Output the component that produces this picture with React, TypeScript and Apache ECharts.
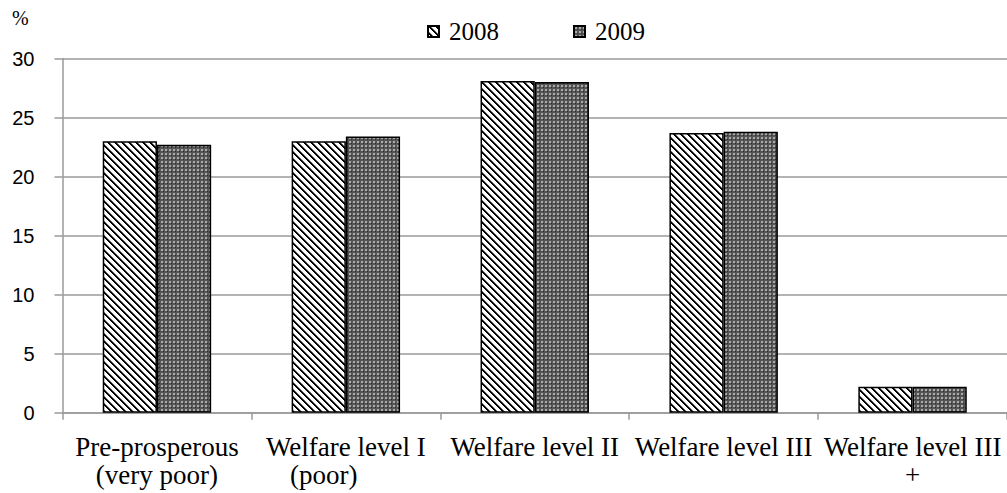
import React, { useEffect, useRef } from "react";
import * as echarts from "echarts";

const categories = [
  "Pre-prosperous\n(very poor)",
  "Welfare level I\n(poor)",
  "Welfare level II",
  "Welfare level III",
  "Welfare level III\n+",
];
const values2008 = [23.0, 23.0, 28.1, 23.7, 2.2];
const values2009 = [22.7, 23.4, 28.0, 23.8, 2.2];
const seriesNames = ["2008", "2009"];
const yTicks = { min: 0, max: 30, interval: 5 };

function stripeTile(): HTMLCanvasElement {
  const n = 7;
  const c = document.createElement("canvas");
  c.width = n;
  c.height = n;
  const ctx = c.getContext("2d")!;
  ctx.fillStyle = "#ffffff";
  ctx.fillRect(0, 0, n, n);
  for (let y = 0; y < n; y++) {
    for (let x = 0; x < n; x++) {
      const d = (((x - y) % n) + n) % n;
      if (d < 2) {
        ctx.fillStyle = "#000000";
        ctx.fillRect(x, y, 1, 1);
      } else if (d === 2) {
        ctx.fillStyle = "#777777";
        ctx.fillRect(x, y, 1, 1);
      }
    }
  }
  return c;
}

function checkTile(): HTMLCanvasElement {
  const c = document.createElement("canvas");
  c.width = 4;
  c.height = 4;
  const ctx = c.getContext("2d")!;
  ctx.fillStyle = "#555555";
  ctx.fillRect(0, 0, 4, 4);
  ctx.fillStyle = "#ababab";
  ctx.fillRect(1, 1, 2, 2);
  ctx.fillStyle = "#2c2c2c";
  ctx.fillRect(3, 3, 1, 1);
  return c;
}

export default function App() {
  const ref = useRef<HTMLDivElement>(null);

  useEffect(() => {
    document.body.style.margin = "0";
    if (!ref.current) return;
    const chart = echarts.init(ref.current, undefined, { renderer: "svg" });
    const stripe = { image: stripeTile(), repeat: "repeat" } as any;
    const check = { image: checkTile(), repeat: "repeat" } as any;
    const serif = "Liberation Serif";
    const sans = "Liberation Sans";
    const labelBase = { fontFamily: serif, fontSize: 27, lineHeight: 28, color: "#000" };
    chart.setOption({
      animation: false,
      backgroundColor: "#ffffff",
      textStyle: { fontFamily: serif, color: "#000" },
      grid: { left: 62.5, right: -6, top: 58.5, bottom: 80.3, containLabel: false },
      legend: {
        left: 427,
        top: 19,
        padding: 0,
        itemWidth: 11,
        itemHeight: 11,
        itemGap: 74,
        icon: "rect",
        textStyle: {
          fontFamily: serif,
          fontSize: 25,
          color: "#000",
          padding: [0, 0, 0, 5],
        },
        data: seriesNames,
      },
      graphic: [
        {
          type: "text",
          left: 12,
          top: 8,
          style: { text: "%", fontFamily: serif, fontSize: 20, fill: "#000" },
        },
      ],
      xAxis: {
        type: "category",
        data: categories,
        axisLine: { show: true, lineStyle: { color: "#9a9a9a", width: 1.5 } },
        axisTick: { show: true, length: 7, lineStyle: { color: "#9a9a9a", width: 1.5 } },
        axisLabel: {
          interval: 0,
          hideOverlap: false,
          margin: 20,
          ...labelBase,
          formatter: (value: string) =>
            value
              .split("\n")
              .map((line, i) =>
                i === 1 && line === "(poor)" ? `{shift|${line}}` : `{n|${line}}`
              )
              .join("\n"),
          rich: {
            n: { ...labelBase },
            shift: { ...labelBase, padding: [0, 44, 0, 0] },
          },
        },
      },
      yAxis: {
        type: "value",
        min: yTicks.min,
        max: yTicks.max,
        interval: yTicks.interval,
        axisLine: { show: true, lineStyle: { color: "#9a9a9a", width: 1.5 } },
        axisTick: { show: true, length: 8, lineStyle: { color: "#9a9a9a", width: 1.5 } },
        splitLine: { show: true, lineStyle: { color: "#9a9a9a", width: 1.5 } },
        axisLabel: {
          margin: 28,
          fontFamily: sans,
          fontSize: 20,
          color: "#000",
        },
      },
      series: [
        {
          name: seriesNames[0],
          type: "bar",
          data: values2008,
          barGap: "0%",
          barCategoryGap: "42.6%",
          itemStyle: { color: stripe, borderColor: "#000", borderWidth: 1.5 },
        },
        {
          name: seriesNames[1],
          type: "bar",
          data: values2009,
          barGap: "0%",
          barCategoryGap: "42.6%",
          itemStyle: { color: check, borderColor: "#000", borderWidth: 1.5 },
        },
      ],
    });
    return () => chart.dispose();
  }, []);

  return <div ref={ref} style={{ width: 1007, height: 493 }} />;
}
